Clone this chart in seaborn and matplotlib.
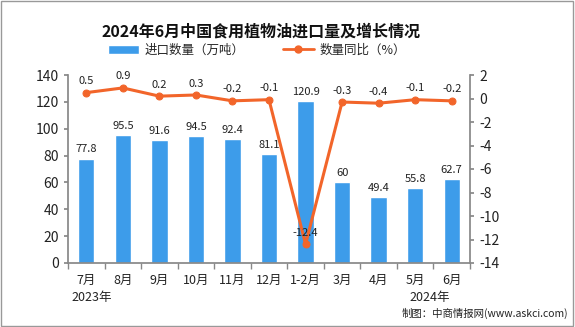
import matplotlib
matplotlib.use("Agg")
import matplotlib.pyplot as plt
import seaborn as sns
import pandas as pd
import numpy as np

categories = ["7月", "8月", "9月", "10月", "11月", "12月", "1-2月", "3月", "4月", "5月", "6月"]
import_volume = [77.8, 95.5, 91.6, 94.5, 92.4, 81.1, 120.9, 60, 49.4, 55.8, 62.7]
yoy_change = [0.5, 0.9, 0.2, 0.3, -0.2, -0.1, -12.4, -0.3, -0.4, -0.1, -0.2]
bar_labels = ["77.8", "95.5", "91.6", "94.5", "92.4", "81.1", "120.9", "60", "49.4", "55.8", "62.7"]
line_labels = ["0.5", "0.9", "0.2", "0.3", "-0.2", "-0.1", "-12.4", "-0.3", "-0.4", "-0.1", "-0.2"]

sns.set_theme(style="white")
plt.rcParams['font.family'] = ['Noto Sans CJK SC', 'DejaVu Sans']
plt.rcParams['axes.unicode_minus'] = False

df = pd.DataFrame({"cat": categories, "vol": import_volume, "yoy": yoy_change})
df["x"] = np.arange(len(categories))

BLUE = "#3d9cea"
ORANGE = "#f2652a"

fig = plt.figure(figsize=(5.75, 3.27), dpi=100)
ax = fig.add_axes([68/575, 1 - 263/327, (470-68)/575, (263-75)/327])

sns.barplot(data=df, x="cat", y="vol", color=BLUE, width=0.45, ax=ax, saturation=1)
ax.set_ylim(0, 140)
ax.set_yticks(range(0, 141, 20))
ax.set_xlabel("")
ax.set_ylabel("")

ax2 = ax.twinx()
sns.lineplot(data=df, x="x", y="yoy", color=ORANGE, lw=2.2, marker="o", markersize=5,
             markeredgecolor=ORANGE, ax=ax2)
ax2.set_ylim(-14, 2)
ax2.set_yticks(range(-14, 3, 2))
ax2.set_ylabel("")
ax2.set_xlabel("")

for i, v in enumerate(import_volume):
    ax.text(i, v + 3, bar_labels[i], ha="center", va="bottom", fontsize=8, color="#222222")
for i, v in enumerate(yoy_change):
    ax2.text(i, v + 0.55, line_labels[i], ha="center", va="bottom", fontsize=8, color="#222222")

for a in (ax, ax2):
    a.spines["top"].set_visible(False)
ax.spines["right"].set_visible(False)
ax.spines["left"].set_color("#888888")
ax.spines["bottom"].set_color("#888888")
ax2.spines["right"].set_color("#888888")
ax2.spines["left"].set_visible(False)
ax2.spines["bottom"].set_visible(False)
ax.tick_params(axis="y", left=True, labelsize=10, colors="#222222", length=3, color="#888888")
ax2.tick_params(axis="y", right=True, labelsize=10, colors="#222222", length=3, color="#888888")

ax.set_xlim(-0.5, len(categories) - 0.5)
ax.set_xticks(np.arange(len(categories)))
ax.set_xticklabels(categories, fontsize=9, color="#222222")
ax.tick_params(axis="x", which="major", length=0, pad=8)
ax.set_xticks(np.arange(-0.5, len(categories), 1), minor=True)
ax.tick_params(axis="x", which="minor", bottom=True, length=4, color="#888888")

fig.text(261/575, 1 - 31/327, "2024年6月中国食用植物油进口量及增长情况", ha="center", va="center",
         fontsize=11.5, fontweight="bold", color="#111111")

from matplotlib.patches import Patch
from matplotlib.lines import Line2D
handles = [Patch(facecolor=BLUE, label="进口数量（万吨）"),
           Line2D([0], [0], color=ORANGE, lw=2, marker="o", markersize=5, label="数量同比（%）")]
fig.legend(handles=handles, loc="center", bbox_to_anchor=(257/575, 1 - 50/327), ncol=2,
           frameon=False, fontsize=9, handlelength=2.5, columnspacing=3, handletextpad=0.5)

fig.text(92/575, 1 - 298/327, "2023年", ha="center", va="center", fontsize=9, color="#222222")
fig.text(430/575, 1 - 298/327, "2024年", ha="center", va="center", fontsize=9, color="#222222")
fig.text(568/575, 1 - 313/327, "制图：中商情报网(www.askci.com)", ha="right", va="center",
         fontsize=7.5, color="#222222")

fig.patches.append(plt.Rectangle((0.002, 0.003), 0.995, 0.994, transform=fig.transFigure,
                                 fill=False, edgecolor="#999999", lw=1))

fig.savefig("out.png", dpi=100)
